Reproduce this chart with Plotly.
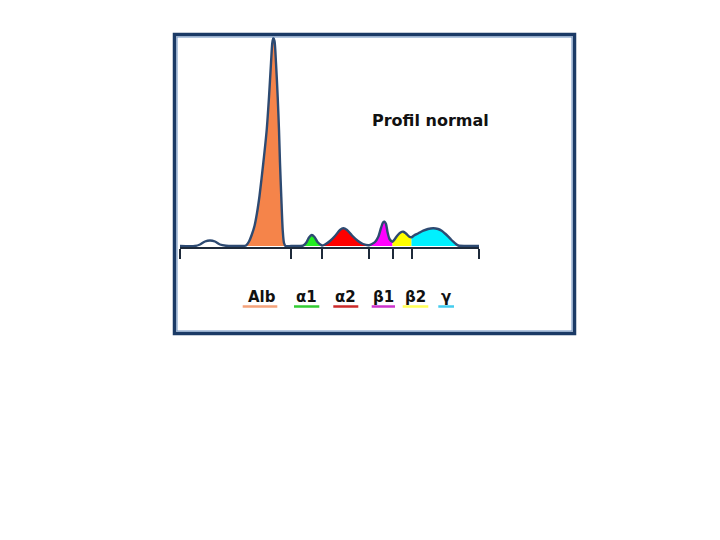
import plotly.graph_objects as go

# ---- data (migration distance, arbitrary units; density, arbitrary units) ----
migration = [0, 15, 20, 25, 30, 35, 40, 46, 55, 62,
             66, 69, 71.5, 74.5, 77, 79.5, 83.3, 86.7, 89, 91, 92.3, 93.3,
             94.5, 96, 97.7, 99, 100, 101.3, 102.7, 104, 105.5,
             111, 120, 123, 126, 129, 131.7, 134.5, 137.5, 142,
             145, 150, 155, 160, 163.3, 167, 172, 178, 183, 189,
             192, 195, 198.3, 201, 203, 204.5, 206, 207.5, 209.5, 212.5,
             214.5, 217, 220.5, 223.3, 226, 229, 231.5,
             234, 238, 243.3, 248, 253.3, 258, 261.7, 265, 268.3, 271, 273.3, 276, 278.3,
             285, 299]
density = [0, 0, 1.5, 4.5, 5.5, 4.5, 1.5, 0.3, 0, 0,
           0.5, 4.5, 10.5, 20, 33, 50, 83, 116, 149, 183, 203, 208,
           205, 183, 149, 116, 83, 49, 16, 3, 0,
           0, 0, 0.3, 3, 8.5, 11, 9, 4, 0.5,
           1.5, 5, 10, 16, 17.7, 16, 10.5, 5, 2, 0.8,
           2, 4, 9.3, 18, 23.5, 24.3, 22, 14, 7, 4.3,
           6.5, 10, 13.5, 14.3, 12.5, 9.5, 8.7,
           10.5, 12.5, 15.3, 17, 17.7, 17, 15.3, 12.5, 9.3, 6.5, 4.3, 2, 0.5,
           0, 0]
assert len(migration) == len(density)

fractions = ["Alb", "α1", "α2", "β1", "β2", "γ"]
fill_start = [60, 111, 142, 189, 212.5, 231.5]
fill_end = [111, 142, 189, 212.5, 231.5, 299]
tick_positions = [0, 111, 142, 189, 212.5, 231.5, 299]
fill_colors = ["#F5844A", "#22EE22", "#FF0000", "#FF00FF", "#FFFF00", "#00F0FF"]
underline_colors = ["#F4A27A", "#33CC33", "#CC2A2A", "#CC33CC", "#FFFF55", "#44CCEE"]
title_text = "Profil normal"

# ---- layout geometry ----
W, H = 720, 540
OFF = 8  # default page body margin
plot_w, plot_h = 299, 210
ML = 180 - OFF
MT = 37 - OFF
MR = W - ML - plot_w
MB = H - MT - plot_h
YMIN, YMAX = -1, 209


def px(xp):
    # page pixel -> paper x
    return (xp - OFF - ML) / plot_w


def py(yp):
    # page pixel -> paper y
    return (MT + plot_h - (yp - OFF)) / plot_h


fig = go.Figure()

for name, a, b, col in zip(fractions, fill_start, fill_end, fill_colors):
    xs = [x for x in migration if a <= x <= b]
    ys = [y for x, y in zip(migration, density) if a <= x <= b]
    fig.add_trace(go.Scatter(x=xs, y=ys, mode="lines", fill="tozeroy",
                             fillcolor=col, line=dict(width=0, shape="spline", smoothing=0.7),
                             hoverinfo="skip", showlegend=False))

fig.add_trace(go.Scatter(x=migration, y=density, mode="lines",
                         line=dict(color="#2D4A72", width=2.4, shape="spline", smoothing=0.7),
                         hoverinfo="skip", showlegend=False))

shapes = []
shapes.append(dict(type="rect", xref="paper", yref="paper",
                   x0=px(174.5), x1=px(574.5), y0=py(333.5), y1=py(34.5),
                   line=dict(color="#1B3A66", width=3.5), layer="above"))
shapes.append(dict(type="rect", xref="paper", yref="paper",
                   x0=px(177), x1=px(572), y0=py(331), y1=py(37),
                   line=dict(color="#6B8FC0", width=1), layer="above"))

label_centers = [261.5, 306.5, 345.5, 383, 415.5, 446]
underline_x0 = [242.7, 294, 333.3, 371.7, 402.7, 438.3]
underline_x1 = [277.3, 319.3, 358.3, 395, 428.3, 454]
annotations = []
for name, cx, u0, u1, uc in zip(fractions, label_centers, underline_x0, underline_x1, underline_colors):
    annotations.append(dict(x=px(cx), y=py(297), xref="paper", yref="paper",
                            text=name, showarrow=False, xanchor="center", yanchor="middle",
                            font=dict(family="DejaVu Sans", size=15, color="#111111", weight="bold")))
    shapes.append(dict(type="line", xref="paper", yref="paper",
                       x0=px(u0), x1=px(u1), y0=py(306.5), y1=py(306.5),
                       line=dict(color=uc, width=2.5)))

annotations.append(dict(x=px(430.5), y=py(120), xref="paper", yref="paper",
                        text=title_text, showarrow=False, xanchor="center", yanchor="middle",
                        font=dict(family="DejaVu Sans", size=16, color="#111111", weight="bold")))

fig.update_layout(
    width=W, height=H,
    margin=dict(l=ML, r=MR, t=MT, b=MB, pad=0),
    paper_bgcolor="white", plot_bgcolor="white",
    shapes=shapes, annotations=annotations,
    showlegend=False,
    xaxis=dict(range=[0, 299], showgrid=False, zeroline=False,
               showline=True, linecolor="#1E2A3A", linewidth=2,
               ticks="outside", ticklen=10, tickwidth=2, tickcolor="#1E2A3A",
               tickvals=tick_positions, showticklabels=False, fixedrange=True),
    yaxis=dict(range=[YMIN, YMAX], visible=False, showgrid=False, zeroline=False, fixedrange=True),
)

fig.write_html("out.html")
